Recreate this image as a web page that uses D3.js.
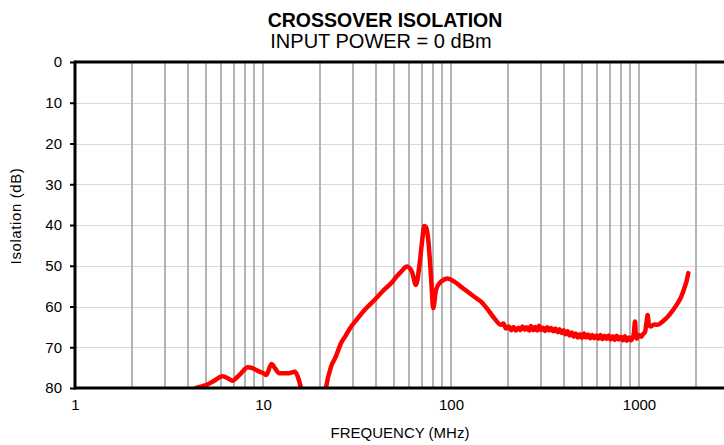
<!DOCTYPE html>
<html>
<head>
<meta charset="utf-8">
<script src="https://cdn.jsdelivr.net/npm/d3@7"></script>
<style>
  body { margin: 0; background: #fff; }
  text { font-family: "Liberation Sans", Arial, sans-serif; fill: #000; }
</style>
</head>
<body>
<script>
// Chart size
var width = 724;
var height = 445;

// Data (frequency MHz, isolation dB)
var freqMHz = [4.4, 4.98, 5.5, 6.1, 6.5, 6.9, 7.3, 7.64, 8.29, 8.8, 9.37, 10.0, 10.4, 11.1, 11.6, 12.2, 13.5, 14.8, 15.3, 16.1, 16.8,
  20.8, 21.6, 23.0, 24.4, 26.0, 27.5, 29.4, 31.5, 34.6, 37.5, 40.7, 44.0, 48.0, 51.0, 54.2, 58.3, 62.0, 65.1, 67.8, 70.0, 72.1, 73.8, 75.7, 78.3, 80.5, 83.2, 88.5, 96.0, 104.2, 112, 122.7, 133, 144.4, 156, 170, 184.5,
  190, 196, 203, 209, 215, 221, 228, 234, 240, 247, 253, 260, 266, 273, 280, 287, 294, 301, 309, 317, 325, 333, 341, 350, 359, 368, 377, 387, 397, 407, 417, 428, 439, 450, 461, 473, 485, 497,
  510, 523, 536, 550, 564, 578, 593, 608, 623, 639, 655, 672, 689, 706, 724, 742, 761, 780, 800, 820, 841, 862, 884, 906, 926,
  940, 952, 962, 972, 1000, 1025, 1050, 1077, 1095, 1112, 1130, 1158, 1200, 1257, 1340, 1421, 1510, 1607, 1680, 1742, 1790, 1829];
var isolationDb = [80.0, 79.3, 78.2, 77.1, 77.6, 78.2, 77.3, 76.4, 74.9, 75.1, 75.8, 76.3, 76.8, 74.1, 75.2, 76.4, 76.4, 76.0, 77.2, 81, 86,
  86, 80.1, 74.8, 72.3, 69.0, 67.2, 64.96, 63.2, 60.9, 59.3, 57.6, 55.9, 54.3, 52.8, 51.5, 50.2, 51.5, 54.7, 50.2, 44.5, 40.25, 40.6, 43.7, 52.7, 60.4, 55.9, 53.9, 53.1, 53.9, 55.0, 56.4, 57.6, 58.8, 60.6, 62.9, 64.5,
  64.2, 65.4, 64.9, 65.8, 65.0, 65.9, 65.2, 65.8, 64.9, 65.7, 65.1, 65.9, 64.8, 65.8, 65.0, 65.9, 64.7, 65.8, 65.2, 66.0, 65.1, 65.9, 65.3, 66.1, 65.4, 66.3, 65.6, 66.5, 65.8, 66.8, 66.1, 67.1, 66.4, 67.4, 66.6, 67.6, 66.8, 67.7,
  66.6, 67.6, 66.9, 67.8, 67.0, 67.8, 67.1, 67.9, 67.0, 68.0, 67.2, 68.0, 67.1, 68.1, 67.3, 68.2, 67.2, 68.1, 67.4, 68.3, 67.3, 68.4, 67.6, 68.3, 67.6,
  66.5, 63.7, 66.8, 67.9, 67.0, 67.4, 66.8, 66.2, 64.0, 62.1, 64.6, 64.9, 64.4, 64.5, 63.6, 62.5, 61.0, 59.2, 57.5, 55.5, 53.8, 51.8];

var yTicks = [0, 10, 20, 30, 40, 50, 60, 70, 80];
var xLabelTicks = [1, 10, 100, 1000];
var xGridTicks = [2, 3, 4, 5, 6, 7, 8, 9, 10, 20, 30, 40, 50, 60, 70, 80, 90, 100, 200, 300, 400, 500, 600, 700, 800, 900, 1000, 2000];

var data = freqMHz.map(function (f, i) { return {f: f, v: isolationDb[i]}; });

// Plot area
var plotLeft = 75, plotTop = 62, plotBottom = 388;
var decade = 188;

var x = d3.scaleLog()
  .domain([1, 3000])
  .range([plotLeft, plotLeft + Math.log10(3000) * decade]);

var y = d3.scaleLinear()
  .domain([0, 80])
  .range([plotTop, plotBottom]);

var svg = d3.select('body').append('svg')
  .attr('width', width)
  .attr('height', height);

// clip for the curve
svg.append('clipPath').attr('id', 'plotClip')
  .append('rect')
  .attr('x', plotLeft)
  .attr('y', plotTop)
  .attr('width', width - plotLeft)
  .attr('height', plotBottom - plotTop);

// horizontal gridlines
svg.append('g')
  .selectAll('line')
  .data(yTicks.slice(1, -1))
  .enter().append('line')
  .attr('x1', plotLeft)
  .attr('x2', width)
  .attr('y1', function (d) { return Math.round(y(d)) + 0.5; })
  .attr('y2', function (d) { return Math.round(y(d)) + 0.5; })
  .attr('stroke', '#d9d9d9')
  .attr('stroke-width', 1);

// vertical gridlines
svg.append('g')
  .selectAll('line')
  .data(xGridTicks)
  .enter().append('line')
  .attr('x1', function (d) { return Math.round(x(d)); })
  .attr('x2', function (d) { return Math.round(x(d)); })
  .attr('y1', plotTop)
  .attr('y2', plotBottom)
  .attr('stroke', '#b4b4b4')
  .attr('stroke-width', 2);

// y axis with tick labels
var yAxis = d3.axisLeft(y)
  .tickValues(yTicks)
  .tickSize(5)
  .tickPadding(8);

var gy = svg.append('g')
  .attr('transform', 'translate(' + plotLeft + ',0)')
  .call(yAxis);
gy.select('.domain').remove();
gy.selectAll('.tick line').attr('stroke', '#000').attr('stroke-width', 2);
gy.selectAll('.tick text')
  .style('font-size', '15px')
  .style('font-family', '"Liberation Sans", Arial, sans-serif');

// x axis labels
var xAxis = d3.axisBottom(x)
  .tickValues(xLabelTicks)
  .tickFormat(d3.format('d'))
  .tickSize(0)
  .tickPadding(11);

var gx = svg.append('g')
  .attr('transform', 'translate(0,' + plotBottom + ')')
  .call(xAxis);
gx.select('.domain').remove();
gx.selectAll('.tick text')
  .style('font-size', '15px')
  .style('font-family', '"Liberation Sans", Arial, sans-serif');

// the curve
var line = d3.line()
  .x(function (d) { return x(d.f); })
  .y(function (d) { return y(d.v); })
  .curve(d3.curveMonotoneX);

svg.append('path')
  .datum(data)
  .attr('clip-path', 'url(#plotClip)')
  .attr('fill', 'none')
  .attr('stroke', '#ff0000')
  .attr('stroke-width', 4.5)
  .attr('stroke-linejoin', 'round')
  .attr('stroke-linecap', 'round')
  .attr('d', line);

// frame: left, top, bottom
svg.append('line') // left
  .attr('x1', plotLeft).attr('x2', plotLeft)
  .attr('y1', plotTop - 1.5).attr('y2', plotBottom + 1.5)
  .attr('stroke', '#000').attr('stroke-width', 3);
svg.append('line') // top
  .attr('x1', plotLeft).attr('x2', width)
  .attr('y1', plotTop).attr('y2', plotTop)
  .attr('stroke', '#000').attr('stroke-width', 3);
svg.append('line') // bottom
  .attr('x1', plotLeft).attr('x2', width)
  .attr('y1', plotBottom).attr('y2', plotBottom)
  .attr('stroke', '#000').attr('stroke-width', 3);

// titles
svg.append('text')
  .attr('x', 385)
  .attr('y', 27)
  .attr('text-anchor', 'middle')
  .style('font-size', '19.5px')
  .style('font-weight', 'bold')
  .text('CROSSOVER ISOLATION');

svg.append('text')
  .attr('x', 381)
  .attr('y', 48)
  .attr('text-anchor', 'middle')
  .style('font-size', '20px')
  .text('INPUT POWER = 0 dBm');

svg.append('text')
  .attr('x', 400)
  .attr('y', 438)
  .attr('text-anchor', 'middle')
  .style('font-size', '15px')
  .text('FREQUENCY (MHz)');

svg.append('text')
  .attr('transform', 'translate(21,' + 216 + ') rotate(-90)')
  .attr('text-anchor', 'middle')
  .style('font-size', '15px')
  .style('letter-spacing', '0.6px')
  .text('Isolation (dB)');
</script>
</body>
</html>
